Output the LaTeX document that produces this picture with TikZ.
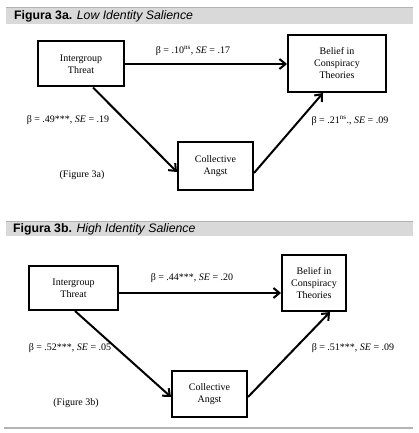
\documentclass[tikz,border=0pt]{standalone}
\usepackage{fontspec}
\setmainfont{Liberation Serif}
\newfontfamily\hdrfont{Liberation Sans}
\usetikzlibrary{arrows.meta,calc}
\definecolor{band}{HTML}{D9D9D9}
\definecolor{bandedge}{HTML}{B3B3B3}
\tikzset{
  box/.style={draw=black, line width=2pt, rectangle, align=center, inner sep=0pt,
     font=\fontsize{10}{12}\selectfont},
  conn/.style={line width=2pt, -{Straight Barb[length=6pt,width=10pt,line width=2pt]}},
  lbl/.style={font=\fontsize{10}{12}\selectfont, inner sep=0pt},
  hdr/.style={font=\hdrfont\fontsize{12.3}{14}\selectfont, anchor=west, inner sep=0pt},
}
\begin{document}
\begin{tikzpicture}[x=1pt,y=-1pt]
\useasboundingbox (0,0) rectangle (419,433);
% ---------- header 3a
\fill[band] (6,7) rectangle (413,24);
\draw[bandedge, line width=1pt] (6,7.5) -- (413,7.5);
\node[hdr] (h3a) at (14,16) {\textbf{Figura 3a.} \textit{Low Identity Salience}};
% ---------- panel 3a
\node[box, minimum width=86pt, minimum height=45pt] (ITa) at (81,64) {Intergroup\\Threat};
\node[box, minimum width=98pt, minimum height=57pt] (BCa) at (337,63.5) {Belief in\\Conspiracy\\Theories};
\node[box, minimum width=75pt, minimum height=48pt] (CAa) at (215.5,166) {Collective\\Angst};
\draw[conn] (ITa.east) -- (ITa.east -| BCa.west);
\draw[conn] ($(ITa.south)+(12,0)$) -- ($(CAa.west)+(0,6)$);
\draw[conn] ($(CAa.east)+(0,7)$) -- ($(BCa.south)+(-14,0)$);
\node[lbl] (La1) at (193,51) {β = .10\textsuperscript{ns}, \textit{SE} = .17};
\node[lbl] (La2) at (68,120) {β = .49***, \textit{SE} = .19};
\node[lbl] (La3) at (350,121) {β = .21\textsuperscript{ns}., \textit{SE} = .09};
\node[lbl] (Fa) at (82,175) {(Figure 3a)};
% ---------- header 3b
\fill[band] (6,221) rectangle (413,236);
\draw[bandedge, line width=1pt] (6,221.5) -- (413,221.5);
\node[hdr] (h3b) at (13,229) {\textbf{Figura 3b.} \textit{High Identity Salience}};
% ---------- panel 3b
\node[box, minimum width=89pt, minimum height=44pt] (ITb) at (73.5,288) {Intergroup\\Threat};
\node[box, minimum width=64pt, minimum height=56pt] (BCb) at (314,283) {Belief in\\Conspiracy\\Theories};
\node[box, minimum width=75pt, minimum height=46pt] (CAb) at (209.5,394) {Collective\\Angst};
\coordinate (hb) at ($(ITb.east)+(0,5)$);
\draw[conn] (hb) -- (hb -| BCb.west);
\draw[conn] ($(ITb.south)+(1.5,0)$) -- ($(CAb.west)+(0,3)$);
\draw[conn] ($(CAb.east)+(0,3)$) -- ($(BCb.south)+(16,0)$);
\node[lbl] (Lb1) at (192,278) {β = .44***, \textit{SE} = .20};
\node[lbl] (Lb2) at (70,348) {β = .52***, \textit{SE} = .05};
\node[lbl] (Lb3) at (353,348) {β = .51***, \textit{SE} = .09};
\node[lbl] (Fb) at (76,403) {(Figure 3b)};
% bottom rule
\draw[bandedge, line width=2pt] (4,428) -- (413,428);
\end{tikzpicture}
\end{document}
